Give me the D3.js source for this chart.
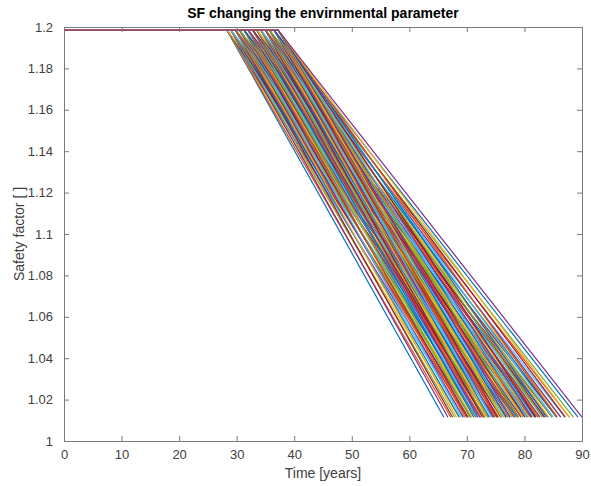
<!DOCTYPE html>
<html lang="en">
<head>
<meta charset="UTF-8">
<title>SF changing the envirnmental parameter</title>
<script src="https://d3js.org/d3.v7.min.js"></script>
<style>
    body { margin: 0; background: #fff; }
    text { font-family: "Liberation Sans", Arial, sans-serif; }
    .axis path, .axis line { stroke: #7a7a7a; }
    .axis text { fill: #404040; font-size: 13px; }
</style>
</head>
<body>
<div id="chart"></div>
<script>
    // Onset of degradation for each run [years]
    const onsetYears = [28.3, 29.0, 29.8, 30.5, 31.3, 32.0, 32.8, 33.5, 34.2, 35.0, 35.7, 36.5, 37.2];

    // Year each run reaches the final safety factor, one row per onset
    const endYears = [
        [66.0, 67.2, 68.6, 70.0, 71.5, 73.1, 74.9, 76.8, 78.9, 81.1],
        [66.7, 67.9, 69.3, 70.7, 72.2, 73.8, 75.6, 77.5, 79.6, 81.8],
        [67.5, 68.7, 70.1, 71.5, 73.0, 74.6, 76.4, 78.3, 80.4, 82.6],
        [68.2, 69.4, 70.8, 72.2, 73.7, 75.3, 77.1, 79.0, 81.1, 83.3],
        [69.0, 70.2, 71.6, 73.0, 74.5, 76.1, 77.9, 79.8, 81.9, 84.1],
        [69.7, 70.9, 72.3, 73.7, 75.2, 76.8, 78.6, 80.5, 82.6, 84.8],
        [70.5, 71.7, 73.1, 74.5, 76.0, 77.6, 79.4, 81.3, 83.4, 85.6],
        [71.2, 72.4, 73.8, 75.2, 76.7, 78.3, 80.1, 82.0, 84.1, 86.3],
        [71.9, 73.1, 74.5, 75.9, 77.4, 79.0, 80.8, 82.7, 84.8, 87.0],
        [72.7, 73.9, 75.3, 76.7, 78.2, 79.8, 81.6, 83.5, 85.6, 87.8],
        [73.4, 74.6, 76.0, 77.4, 78.9, 80.5, 82.3, 84.2, 86.3, 88.5],
        [74.2, 75.4, 76.8, 78.2, 79.7, 81.3, 83.1, 85.0, 87.1, 89.3],
        [74.9, 76.1, 77.5, 78.9, 80.4, 82.0, 83.8, 85.7, 87.8, 90.0]
    ];

    const initialSF = 1.1985;
    const finalSF = 1.0115;

    const xTicks = [0, 10, 20, 30, 40, 50, 60, 70, 80, 90];
    const yTicks = [1, 1.02, 1.04, 1.06, 1.08, 1.1, 1.12, 1.14, 1.16, 1.18, 1.2];

    // MATLAB default colour order
    const colorOrder = ['#0072BD', '#D95319', '#EDB120', '#7E2F8E', '#77AC30', '#4DBEEE', '#A2142F'];

    const width = 591;
    const height = 486;
    const margin = { top: 27, right: 9, bottom: 45, left: 64 };
    const innerW = width - margin.left - margin.right;
    const innerH = height - margin.top - margin.bottom;

    // Build one polyline per run: flat, then linear drop
    const runs = [];
    onsetYears.forEach((t0, i) => {
        endYears[i].forEach(t1 => {
            runs.push([[0, initialSF], [t0, initialSF], [t1, finalSF]]);
        });
    });

    const x = d3.scaleLinear().domain([0, 90]).range([0, innerW]);
    const y = d3.scaleLinear().domain([1, 1.2]).range([innerH, 0]);

    const svg = d3.select('#chart')
        .append('svg')
        .attr('width', width)
        .attr('height', height);

    const g = svg.append('g')
        .attr('transform', `translate(${margin.left},${margin.top})`);

    g.append('clipPath')
        .attr('id', 'plot-clip')
        .append('rect')
        .attr('width', innerW)
        .attr('height', innerH);

    const line = d3.line()
        .x(d => x(d[0]))
        .y(d => y(d[1]));

    g.append('g')
        .attr('clip-path', 'url(#plot-clip)')
        .selectAll('path')
        .data(runs)
        .join('path')
        .attr('d', line)
        .attr('fill', 'none')
        .attr('stroke', (d, i) => colorOrder[i % colorOrder.length])
        .attr('stroke-width', 1.2);

    // Axes, MATLAB style: ticks inside, box on
    g.append('g')
        .attr('class', 'axis')
        .attr('transform', `translate(0,${innerH})`)
        .call(d3.axisBottom(x).tickValues(xTicks).tickFormat(d3.format('d'))
            .tickSizeInner(-5).tickSizeOuter(0).tickPadding(9));

    g.append('g')
        .attr('class', 'axis')
        .call(d3.axisLeft(y).tickValues(yTicks).tickFormat(d => String(+d.toFixed(2)))
            .tickSizeInner(-5).tickSizeOuter(0).tickPadding(11));

    g.append('g')
        .attr('class', 'axis')
        .call(d3.axisTop(x).tickValues(xTicks).tickFormat('')
            .tickSizeInner(-5).tickSizeOuter(0));

    g.append('g')
        .attr('class', 'axis')
        .attr('transform', `translate(${innerW},0)`)
        .call(d3.axisRight(y).tickValues(yTicks).tickFormat('')
            .tickSizeInner(-5).tickSizeOuter(0));

    svg.append('text')
        .attr('x', margin.left + innerW / 2)
        .attr('y', 18)
        .attr('text-anchor', 'middle')
        .attr('font-weight', 'bold')
        .attr('font-size', 14)
        .attr('fill', '#000')
        .text('SF changing the envirnmental parameter');

    svg.append('text')
        .attr('x', margin.left + innerW / 2)
        .attr('y', 478)
        .attr('text-anchor', 'middle')
        .attr('font-size', 14)
        .attr('fill', '#404040')
        .text('Time [years]');

    svg.append('text')
        .attr('transform', `translate(24,${margin.top + innerH / 2}) rotate(-90)`)
        .attr('text-anchor', 'middle')
        .attr('font-size', 14)
        .attr('fill', '#404040')
        .text('Safety factor [ ]');
</script>
</body>
</html>
